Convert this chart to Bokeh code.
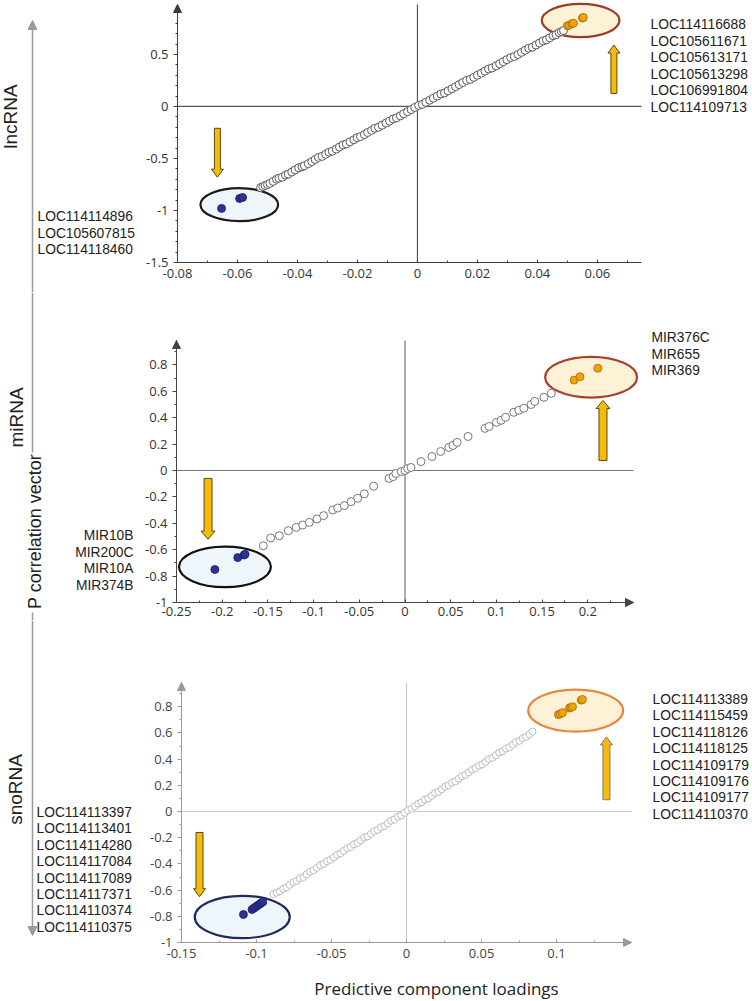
import math
from bokeh.plotting import figure
from bokeh.layouts import column
from bokeh.models import Arrow, NormalHead, Label, FixedTicker, CustomJSTickFormatter, LinearAxis
from bokeh.embed import file_html
from bokeh.resources import INLINE

# ------------------------------------------------------------------ data
# lncRNA panel
LNC_X = [-0.0523, -0.0515, -0.0508, -0.0500, -0.0492, -0.0481, -0.0470, -0.0462, -0.0451, -0.0440,
         -0.0431, -0.0419, -0.0408, -0.0396, -0.0385, -0.0377, -0.0364, -0.0352, -0.0341, -0.0330,
         -0.0318, -0.0306, -0.0295, -0.0284, -0.0271, -0.0260, -0.0248, -0.0237, -0.0225, -0.0212,
         -0.0201, -0.0190, -0.0177, -0.0166, -0.0153, -0.0142, -0.0130, -0.0118, -0.0105, -0.0093,
         -0.0081, -0.0070, -0.0057, -0.0046, -0.0033, -0.0021, -0.0009, 0.0004, 0.0016, 0.0028,
         0.0041, 0.0053, 0.0066, 0.0078, 0.0090, 0.0102, 0.0115, 0.0127, 0.0139, 0.0151,
         0.0164, 0.0176, 0.0188, 0.0200, 0.0213, 0.0225, 0.0237, 0.0249, 0.0262, 0.0274,
         0.0286, 0.0298, 0.0311, 0.0323, 0.0335, 0.0347, 0.0359, 0.0371, 0.0383, 0.0395,
         0.0407, 0.0419, 0.0430, 0.0441, 0.0452, 0.0462, 0.0472, 0.0480, 0.0487]
LNC_Y = [-0.78, -0.77, -0.76, -0.75, -0.74, -0.72, -0.70, -0.69, -0.68, -0.66,
         -0.65, -0.63, -0.61, -0.59, -0.58, -0.57, -0.55, -0.53, -0.51, -0.49,
         -0.48, -0.46, -0.44, -0.43, -0.41, -0.39, -0.37, -0.36, -0.34, -0.32,
         -0.30, -0.29, -0.27, -0.25, -0.23, -0.21, -0.20, -0.18, -0.16, -0.14,
         -0.12, -0.11, -0.09, -0.07, -0.05, -0.03, -0.01, 0.01, 0.02, 0.04,
         0.06, 0.08, 0.10, 0.12, 0.13, 0.15, 0.17, 0.19, 0.21, 0.23,
         0.25, 0.26, 0.28, 0.30, 0.32, 0.34, 0.36, 0.37, 0.39, 0.41,
         0.43, 0.45, 0.47, 0.48, 0.50, 0.52, 0.54, 0.56, 0.57, 0.59,
         0.61, 0.63, 0.64, 0.66, 0.68, 0.69, 0.71, 0.72, 0.73]
LNC_DOWN_X = [-0.0653, -0.0593, -0.0583]
LNC_DOWN_Y = [-0.980, -0.885, -0.875]
LNC_UP_X = [0.0500, 0.0505, 0.0515, 0.0520, 0.0550, 0.0553]
LNC_UP_Y = [0.775, 0.780, 0.795, 0.800, 0.850, 0.855]
LNC_UP_GENES = ["LOC114116688", "LOC105611671", "LOC105613171", "LOC105613298", "LOC106991804", "LOC114109713"]
LNC_DOWN_GENES = ["LOC114114896", "LOC105607815", "LOC114118460"]
LNC_XTICKS = [-0.08, -0.06, -0.04, -0.02, 0, 0.02, 0.04, 0.06]
LNC_XMINOR = [-0.07, -0.05, -0.03, -0.01, 0.01, 0.03, 0.05, 0.07]
LNC_YTICKS = [-1.5, -1, -0.5, 0, 0.5]
LNC_YMINOR = [-1.4, -1.3, -1.2, -1.1, -0.9, -0.8, -0.7, -0.6, -0.4, -0.3, -0.2, -0.1,
              0.1, 0.2, 0.3, 0.4, 0.6, 0.7, 0.8, 0.9]

# miRNA panel
MIR_X = [-0.155, -0.147, -0.1375, -0.1277, -0.119, -0.112, -0.1047, -0.0963, -0.089, -0.079,
         -0.0736, -0.0664, -0.059, -0.0518, -0.0445, -0.0343, -0.0175, -0.013, -0.010, -0.004,
         0.000, 0.003, 0.0066, 0.0175, 0.0295, 0.039, 0.048, 0.0525, 0.057, 0.069,
         0.0875, 0.092, 0.100, 0.105, 0.110, 0.119, 0.1245, 0.130, 0.138, 0.142,
         0.152, 0.160]
MIR_Y = [-0.570, -0.511, -0.494, -0.456, -0.431, -0.413, -0.393, -0.367, -0.342, -0.299,
         -0.284, -0.266, -0.236, -0.210, -0.177, -0.119, -0.060, -0.046, -0.023, -0.008,
         0.000, 0.015, 0.023, 0.068, 0.106, 0.144, 0.175, 0.190, 0.213, 0.258,
         0.319, 0.334, 0.365, 0.380, 0.403, 0.441, 0.456, 0.471, 0.500, 0.524,
         0.555, 0.585]
MIR_DOWN_X = [-0.208, -0.183, -0.176, -0.175]
MIR_DOWN_Y = [-0.750, -0.660, -0.640, -0.635]
MIR_UP_X = [0.185, 0.1915, 0.211]
MIR_UP_Y = [0.685, 0.710, 0.775]
MIR_UP_GENES = ["MIR376C", "MIR655", "MIR369"]
MIR_DOWN_GENES = ["MIR10B", "MIR200C", "MIR10A", "MIR374B"]
MIR_XTICKS = [-0.25, -0.2, -0.15, -0.1, -0.05, 0, 0.05, 0.1, 0.15, 0.2]
MIR_XMINOR = [-0.225, -0.175, -0.125, -0.075, -0.025, 0.025, 0.075, 0.125, 0.175, 0.225]
MIR_YTICKS = [-1, -0.8, -0.6, -0.4, -0.2, 0, 0.2, 0.4, 0.6, 0.8]
MIR_YMINOR = [-0.9, -0.7, -0.5, -0.3, -0.1, 0.1, 0.3, 0.5, 0.7, 0.9]

# snoRNA panel
SNO_X = [-0.0887, -0.0866, -0.0845, -0.0822, -0.0800, -0.0779, -0.0755, -0.0733, -0.0711, -0.0688,
         -0.0666, -0.0643, -0.0620, -0.0598, -0.0575, -0.0553, -0.0530, -0.0508, -0.0485, -0.0462,
         -0.0440, -0.0418, -0.0395, -0.0372, -0.0350, -0.0327, -0.0305, -0.0282, -0.0260, -0.0237,
         -0.0215, -0.0192, -0.0170, -0.0147, -0.0125, -0.0102, -0.0080, -0.0057, -0.0035, -0.0012,
         0.0010, 0.0033, 0.0055, 0.0078, 0.0100, 0.0123, 0.0145, 0.0168, 0.0190, 0.0213,
         0.0235, 0.0258, 0.0280, 0.0303, 0.0325, 0.0348, 0.0370, 0.0393, 0.0415, 0.0438,
         0.0460, 0.0483, 0.0505, 0.0528, 0.0550, 0.0573, 0.0595, 0.0618, 0.0640, 0.0663,
         0.0685, 0.0708, 0.0730, 0.0753, 0.0775, 0.0798, 0.0820, 0.0840]
SNO_Y = [-0.63, -0.62, -0.61, -0.59, -0.58, -0.56, -0.54, -0.53, -0.51, -0.50,
         -0.48, -0.46, -0.45, -0.43, -0.41, -0.40, -0.38, -0.37, -0.35, -0.33,
         -0.32, -0.30, -0.28, -0.27, -0.25, -0.24, -0.22, -0.20, -0.19, -0.17,
         -0.15, -0.14, -0.12, -0.11, -0.09, -0.07, -0.06, -0.04, -0.03, -0.01,
         0.01, 0.02, 0.04, 0.06, 0.07, 0.09, 0.10, 0.12, 0.14, 0.15,
         0.17, 0.19, 0.20, 0.22, 0.23, 0.25, 0.27, 0.28, 0.30, 0.32,
         0.33, 0.35, 0.36, 0.38, 0.40, 0.41, 0.43, 0.45, 0.46, 0.48,
         0.49, 0.51, 0.53, 0.54, 0.56, 0.57, 0.59, 0.61]
SNO_DOWN_X = [-0.1087, -0.1030, -0.1018, -0.1005, -0.0992, -0.0980, -0.0968, -0.0958]
SNO_DOWN_Y = [-0.786, -0.748, -0.738, -0.728, -0.718, -0.708, -0.698, -0.690]
SNO_UP_X = [0.1013, 0.1025, 0.1040, 0.1087, 0.1095, 0.1107, 0.1165, 0.1173]
SNO_UP_Y = [0.740, 0.745, 0.755, 0.790, 0.795, 0.800, 0.850, 0.855]
SNO_UP_GENES = ["LOC114113389", "LOC114115459", "LOC114118126", "LOC114118125",
                "LOC114109179", "LOC114109176", "LOC114109177", "LOC114110370"]
SNO_DOWN_GENES = ["LOC114113397", "LOC114113401", "LOC114114280", "LOC114117084",
                  "LOC114117089", "LOC114117371", "LOC114110374", "LOC114110375"]
SNO_XTICKS = [-0.15, -0.1, -0.05, 0, 0.05, 0.1]
SNO_XMINOR = [-0.125, -0.075, -0.025, 0.025, 0.075, 0.125]
SNO_YTICKS = MIR_YTICKS
SNO_YMINOR = MIR_YMINOR

PANEL_NAMES = ["lncRNA", "miRNA", "snoRNA"]
Y_TITLE = "P correlation vector"
X_TITLE = "Predictive component loadings"

# ------------------------------------------------------------------ layout / style
W = 752
GENE_FONT = "Liberation Sans"
TICK_FONT = "Open Sans"
YELLOW = "#f5bb0a"
BLUE = "#2e3192"
ORANGE = "#f0a30a"
DECO = "#9a9a9a"

# frame = (left, right, top, bottom) of each plotting area, in pixels of the whole picture
panels = [
    dict(top=0, h=292, frame=(177, 641, 4, 262), xr=(-0.08, 0.0747), yr=(-1.5, 0.98),
         x=LNC_X, y=LNC_Y, dx=LNC_DOWN_X, dy=LNC_DOWN_Y, ux=LNC_UP_X, uy=LNC_UP_Y,
         xt=LNC_XTICKS, xm=LNC_XMINOR, yt=LNC_YTICKS, ym=LNC_YMINOR,
         axis="#3c3c3c", zero="#555555", ring="#5a5a5a", ring_size=8, tick_col="#333333",
         xstand=6, x_arrow=False,
         ell_up=(0.0544, 0.827, 0.0259, 0.32, "#9e3b25"), ell_dn=(-0.0594, -0.944, 0.0259, 0.318, "#1a1a1a"),
         arr_dn=(-0.0667, -0.21, -0.68), arr_up=(0.0655, 0.125, 0.59), arr_px=(6, 12, 8),
         up_outline="#5a4810",
         up_genes=LNC_UP_GENES, up_lab=(650, 24, 16.6, "left"),
         dn_genes=LNC_DOWN_GENES, dn_lab=(37, 216, 16.5, "left"),
         name=(10, 116)),
    dict(top=292, h=328, frame=(176, 633, 340, 602), xr=(-0.25, 0.25), yr=(-1.0, 0.985),
         x=MIR_X, y=MIR_Y, dx=MIR_DOWN_X, dy=MIR_DOWN_Y, ux=MIR_UP_X, uy=MIR_UP_Y,
         xt=MIR_XTICKS, xm=MIR_XMINOR, yt=MIR_YTICKS, ym=MIR_YMINOR,
         axis="#444444", zero="#777777", ring="#777777", ring_size=8, tick_col="#333333",
         xstand=4, x_arrow=True,
         ell_up=(0.2036, 0.707, 0.1006, 0.309, "#a8402a"), ell_dn=(-0.197, -0.73, 0.1006, 0.308, "#111111"),
         arr_dn=(-0.2155, -0.06, -0.52), arr_up=(0.2166, 0.076, 0.53), arr_px=(8, 14, 8),
         up_outline="#5a4810",
         up_genes=MIR_UP_GENES, up_lab=(651, 337, 16.7, "left"),
         dn_genes=MIR_DOWN_GENES, dn_lab=(133, 535, 16.7, "right"),
         name=(16, 417)),
    dict(top=620, h=381, frame=(181, 631, 682, 942), xr=(-0.15, 0.15), yr=(-1.0, 0.985),
         x=SNO_X, y=SNO_Y, dx=SNO_DOWN_X, dy=SNO_DOWN_Y, ux=SNO_UP_X, uy=SNO_UP_Y,
         xt=SNO_XTICKS, xm=SNO_XMINOR, yt=SNO_YTICKS, ym=SNO_YMINOR,
         axis="#9a9a9a", zero="#c8c8c8", ring="#bdbdbd", ring_size=7, tick_col="#444444",
         xstand=6, x_arrow=True,
         ell_up=(0.1128, 0.771, 0.0633, 0.321, "#e8883e"), ell_dn=(-0.1095, -0.805, 0.0633, 0.323, "#1f2b5e"),
         arr_dn=(-0.138, -0.16, -0.65), arr_up=(0.1333, 0.09, 0.57), arr_px=(7, 12, 8),
         up_outline="#7a7a7a",
         up_genes=SNO_UP_GENES, up_lab=(652, 699, 16.4, "left"),
         dn_genes=SNO_DOWN_GENES, dn_lab=(36, 812, 16.4, "left"),
         name=(15, 789)),
]

fmt_code = "return String(parseFloat(tick.toFixed(3)));"


def arrow_patch(p, x, ya, yb, sw, hw, hl, xppu, yppu, fill, line):
    s = sw / 2 / xppu
    h2 = hw / 2 / xppu
    d = 1 if yb > ya else -1
    hb = yb - d * hl / yppu
    xs = [x - s, x + s, x + s, x + h2, x, x - h2, x - s]
    ys = [ya, ya, hb, hb, yb, hb, hb]
    p.patch(xs, ys, fill_color=fill, line_color=line, line_width=1)


def vline(p, x, ya, yb, head=None):
    p.add_layout(Arrow(end=head, x_start=x, y_start=ya, x_end=x, y_end=yb,
                       line_color=DECO, line_width=1.5))


figs = []
for i, g in enumerate(panels):
    fl, fr, ft, fb = g["frame"]
    x0, x1 = g["xr"]
    y0, y1 = g["yr"]
    top, h = g["top"], g["h"]
    xppu = (fr - fl) / (x1 - x0)
    yppu = (fb - ft) / (y1 - y0)

    def fx(px, x0=x0, fl=fl, xppu=xppu):
        return x0 + (px - fl) / xppu

    def fy(py, y0=y0, fb=fb, yppu=yppu):
        return y0 + (fb - py) / yppu

    # the whole canvas is the plotting frame; the axes sit at fixed locations inside it
    p = figure(width=W, height=h, x_range=(fx(0), fx(W)), y_range=(fy(top + h), fy(top)),
               output_backend="svg", toolbar_location=None, min_border=0,
               x_axis_location=None, y_axis_location=None)
    p.xgrid.visible = False
    p.ygrid.visible = False
    p.outline_line_color = None
    p.background_fill_color = "white"
    p.border_fill_color = "white"

    xa = LinearAxis(fixed_location=y0, bounds=(x0, x1))
    ya = LinearAxis(fixed_location=x0, bounds=(y0, y1))
    xa.ticker = FixedTicker(ticks=g["xt"], minor_ticks=g["xm"])
    ya.ticker = FixedTicker(ticks=g["yt"], minor_ticks=g["ym"])
    for ax in (xa, ya):
        ax.formatter = CustomJSTickFormatter(code=fmt_code)
        ax.major_label_text_font = TICK_FONT
        ax.major_label_text_font_size = "13px"
        ax.major_label_text_color = g["tick_col"]
        ax.axis_line_color = g["axis"]
        ax.major_tick_line_color = g["axis"]
        ax.minor_tick_line_color = g["axis"]
    xa.major_tick_in = 3
    xa.major_tick_out = 0
    xa.minor_tick_in = 2
    xa.minor_tick_out = 0
    xa.major_label_standoff = g["xstand"]
    ya.major_tick_in = 0
    ya.major_tick_out = 4
    ya.minor_tick_in = 0
    ya.minor_tick_out = 2
    ya.major_label_standoff = 5
    p.add_layout(xa, "below")
    p.add_layout(ya, "left")

    # zero lines
    p.segment(x0=[x0, 0], y0=[0, y0], x1=[x1, 0], y1=[0, y1], line_color=g["zero"], line_width=1.2)

    # axis arrow heads
    p.add_layout(Arrow(end=NormalHead(size=8, fill_color=g["axis"], line_color=g["axis"], line_width=1),
                       x_start=x0, y_start=y1 - 20 / yppu, x_end=x0, y_end=y1,
                       line_color=g["axis"], line_width=1))
    if g["x_arrow"]:
        p.add_layout(Arrow(end=NormalHead(size=8, fill_color=g["axis"], line_color=g["axis"], line_width=1),
                           x_start=x1 - 20 / xppu, y_start=y0, x_end=x1, y_end=y0,
                           line_color=g["axis"], line_width=1))

    # ellipses
    cx, cy, ew, eh, ec = g["ell_up"]
    p.ellipse(x=[cx], y=[cy], width=[ew], height=[eh], fill_color="#fdf1d6", line_color=ec, line_width=2.2)
    cx, cy, ew, eh, ec = g["ell_dn"]
    p.ellipse(x=[cx], y=[cy], width=[ew], height=[eh], fill_color="#eef5fb", line_color=ec, line_width=2.2)

    # all loadings (hollow circles)
    p.scatter(g["x"], g["y"], marker="circle", size=g["ring_size"], fill_color="white",
              line_color=g["ring"], line_width=1)
    # highlighted
    p.scatter(g["dx"], g["dy"], marker="circle", size=8, fill_color=BLUE, line_color="#1c1f6a", line_width=0.8)
    p.scatter(g["ux"], g["uy"], marker="circle", size=8, fill_color=ORANGE, line_color="#a86a00", line_width=0.8)

    # yellow arrows
    sw, hw, hl = g["arr_px"]
    ax_, a0, a1 = g["arr_dn"]
    arrow_patch(p, ax_, a0, a1, sw, hw, hl, xppu, yppu, YELLOW, "#5a4810")
    ax_, a0, a1 = g["arr_up"]
    arrow_patch(p, ax_, a0, a1, sw, hw, hl, xppu, yppu, YELLOW, g["up_outline"])

    # gene labels
    for genes, (lx, ly, dy_, al) in ((g["up_genes"], g["up_lab"]), (g["dn_genes"], g["dn_lab"])):
        for k, txt in enumerate(genes):
            p.add_layout(Label(x=fx(lx), y=fy(ly + k * dy_), text=txt, text_font=GENE_FONT,
                               text_font_size="13.8px", text_color="#222222",
                               text_align=al, text_baseline="middle"))

    # left decorations: gray vertical arrow line + rotated names
    lxd = fx(32)
    bottom_page = top + h
    if i == 0:
        vline(p, lxd, fy(bottom_page), fy(20), NormalHead(size=9, fill_color=DECO, line_color=DECO))
    elif i == 1:
        vline(p, lxd, fy(452), fy(top))
        vline(p, lxd, fy(bottom_page), fy(612))
        p.add_layout(Label(x=fx(34), y=fy(531), text=Y_TITLE, angle=math.pi / 2,
                           text_font=GENE_FONT, text_font_size="18px", text_color="#222222",
                           text_align="center", text_baseline="middle"))
    else:
        vline(p, lxd, fy(top), fy(935), NormalHead(size=9, fill_color=DECO, line_color=DECO))
        p.add_layout(Label(x=fx(436), y=fy(988), text=X_TITLE,
                           text_font=TICK_FONT, text_font_size="17px", text_color="#222222",
                           text_align="center", text_baseline="middle"))
    nx, ny = g["name"]
    p.add_layout(Label(x=fx(nx), y=fy(ny), text=PANEL_NAMES[i], angle=math.pi / 2,
                       text_font=GENE_FONT, text_font_size="19px", text_color="#222222",
                       text_align="center", text_baseline="middle"))
    figs.append(p)

layout = column(*figs, spacing=0)
open("out.html", "w").write(file_html(layout, INLINE))
